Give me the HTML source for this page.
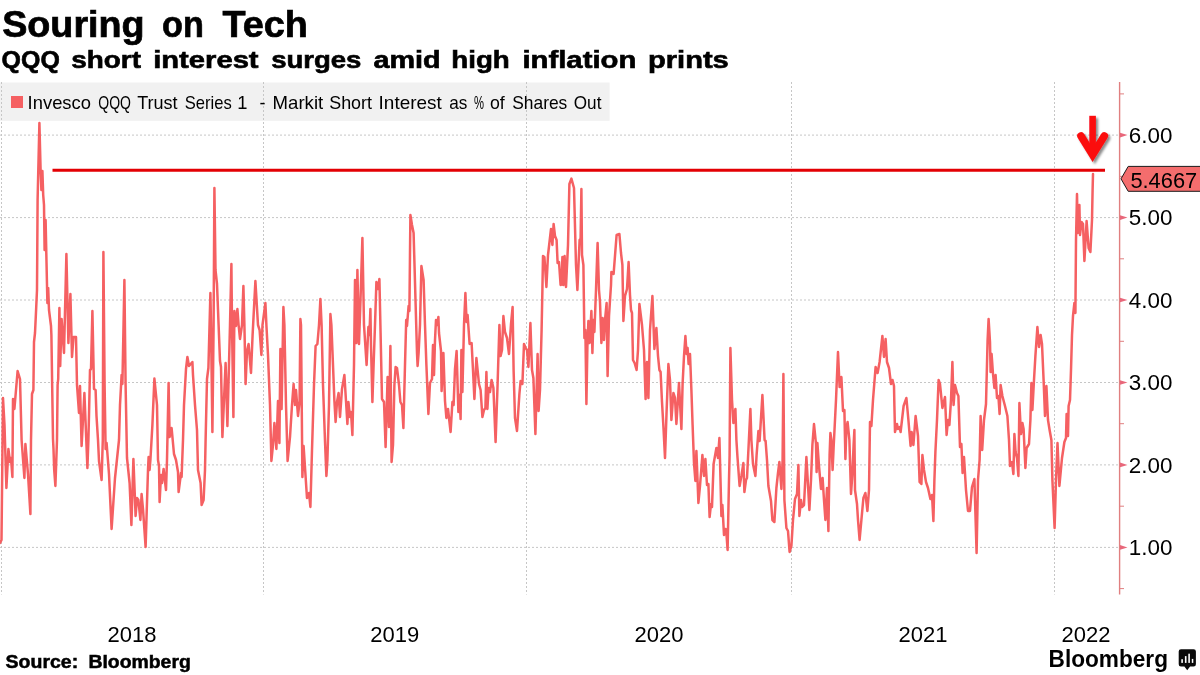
<!DOCTYPE html>
<html><head><meta charset="utf-8"><title>Souring on Tech</title>
<style>
html,body{margin:0;padding:0;background:#fff;}
body{width:1200px;height:675px;overflow:hidden;font-family:"Liberation Sans",sans-serif;}
svg{display:block;will-change:transform;}
svg text{font-family:"Liberation Sans",sans-serif;fill:#000;}
.b{font-weight:bold;}
</style></head>
<body>
<svg width="1200" height="675" viewBox="0 0 1200 675">
<defs>
<filter id="sh" x="-30%" y="-20%" width="170%" height="150%">
<feDropShadow dx="2.2" dy="2.2" stdDeviation="1.3" flood-color="#000" flood-opacity="0.45"/>
</filter>
</defs>
<rect width="1200" height="675" fill="#fff"/>
<g class="b" font-size="36" stroke="#000" stroke-width="0.7"><text x="2.2" y="36.6" textLength="142.4" lengthAdjust="spacingAndGlyphs">Souring</text><text x="162.0" y="36.6" textLength="41.8" lengthAdjust="spacingAndGlyphs">on</text><text x="222.4" y="36.6" textLength="85.4" lengthAdjust="spacingAndGlyphs">Tech</text></g>
<g class="b" font-size="23.6" stroke="#000" stroke-width="0.6"><text x="1.6" y="68" textLength="58.2" lengthAdjust="spacingAndGlyphs">QQQ</text><text x="71.3" y="68" textLength="69.7" lengthAdjust="spacingAndGlyphs">short</text><text x="153.2" y="68" textLength="105.4" lengthAdjust="spacingAndGlyphs">interest</text><text x="271.2" y="68" textLength="90.2" lengthAdjust="spacingAndGlyphs">surges</text><text x="373.4" y="68" textLength="67.2" lengthAdjust="spacingAndGlyphs">amid</text><text x="451.3" y="68" textLength="58.5" lengthAdjust="spacingAndGlyphs">high</text><text x="522.4" y="68" textLength="114.0" lengthAdjust="spacingAndGlyphs">inflation</text><text x="648.0" y="68" textLength="80.8" lengthAdjust="spacingAndGlyphs">prints</text></g>
<rect x="0" y="82.5" width="609.6" height="38.3" fill="#f1f1f1"/>
<g stroke="#c6c6c6" stroke-width="1" stroke-dasharray="2 2" fill="none"><line x1="1.5" y1="82" x2="1.5" y2="594.5"/><line x1="263.5" y1="82" x2="263.5" y2="594.5"/><line x1="526.5" y1="82" x2="526.5" y2="594.5"/><line x1="791.5" y1="82" x2="791.5" y2="594.5"/><line x1="1054.5" y1="82" x2="1054.5" y2="594.5"/><line x1="0" y1="547.4" x2="1119" y2="547.4"/><line x1="0" y1="464.9" x2="1119" y2="464.9"/><line x1="0" y1="382.5" x2="1119" y2="382.5"/><line x1="0" y1="300.0" x2="1119" y2="300.0"/><line x1="0" y1="217.6" x2="1119" y2="217.6"/><line x1="0" y1="135.1" x2="1119" y2="135.1"/></g>
<rect x="11" y="96" width="12" height="12" fill="#f56062"/>
<g font-size="17.8"><text x="27.6" y="109" textLength="63.4" lengthAdjust="spacingAndGlyphs">Invesco</text><text x="98.3" y="109" textLength="32.7" lengthAdjust="spacingAndGlyphs">QQQ</text><text x="137.2" y="109" textLength="40.4" lengthAdjust="spacingAndGlyphs">Trust</text><text x="184.8" y="109" textLength="47.0" lengthAdjust="spacingAndGlyphs">Series</text><text x="237.2" y="109" textLength="10.2" lengthAdjust="spacingAndGlyphs">1</text><text x="259.6" y="109" textLength="6.0" lengthAdjust="spacingAndGlyphs">-</text><text x="272.6" y="109" textLength="50.6" lengthAdjust="spacingAndGlyphs">Markit</text><text x="329.2" y="109" textLength="42.8" lengthAdjust="spacingAndGlyphs">Short</text><text x="378.6" y="109" textLength="63.2" lengthAdjust="spacingAndGlyphs">Interest</text><text x="449.2" y="109" textLength="18.1" lengthAdjust="spacingAndGlyphs">as</text><text x="474.0" y="109" textLength="10.0" lengthAdjust="spacingAndGlyphs">%</text><text x="490.0" y="109" textLength="14.8" lengthAdjust="spacingAndGlyphs">of</text><text x="512.2" y="109" textLength="55.1" lengthAdjust="spacingAndGlyphs">Shares</text><text x="573.8" y="109" textLength="27.6" lengthAdjust="spacingAndGlyphs">Out</text></g>
<line x1="1119.6" y1="82" x2="1119.6" y2="594.5" stroke="#e07f80" stroke-width="1.4"/>
<path d="M1120 545.1 L1127.5 547.4 L1120 549.7 Z" fill="#e8677a"/><path d="M1120 462.6 L1127.5 464.9 L1120 467.2 Z" fill="#e8677a"/><path d="M1120 380.2 L1127.5 382.5 L1120 384.8 Z" fill="#e8677a"/><path d="M1120 297.7 L1127.5 300.0 L1120 302.3 Z" fill="#e8677a"/><path d="M1120 215.3 L1127.5 217.6 L1120 219.9 Z" fill="#e8677a"/><path d="M1120 132.8 L1127.5 135.1 L1120 137.4 Z" fill="#e8677a"/><line x1="1120" y1="588.6" x2="1124" y2="588.6" stroke="#e07f80" stroke-width="1"/><line x1="1120" y1="506.2" x2="1124" y2="506.2" stroke="#e07f80" stroke-width="1"/><line x1="1120" y1="423.7" x2="1124" y2="423.7" stroke="#e07f80" stroke-width="1"/><line x1="1120" y1="341.3" x2="1124" y2="341.3" stroke="#e07f80" stroke-width="1"/><line x1="1120" y1="258.8" x2="1124" y2="258.8" stroke="#e07f80" stroke-width="1"/><line x1="1120" y1="176.4" x2="1124" y2="176.4" stroke="#e07f80" stroke-width="1"/><line x1="1120" y1="93.9" x2="1124" y2="93.9" stroke="#e07f80" stroke-width="1"/>
<polyline points="0,543 1.5,540 3,398 4.5,425 6.4,488 8.4,449 10,462 11,458 12.4,477 13,399 14.4,409 17.6,371 20,379 21.6,440 24.4,478 25.4,444 28,474 30.4,514 31,440 32,394 33.4,390 34,342 35,333 36,312 37,290 37.6,200 39.4,123 40.6,170 41.4,190 42.4,171 43.2,195 44,205 44.6,250 45.6,220 46.5,262 47.4,303 48.2,288 49,310 51,326 51.4,335 53,439 53.5,449 54.2,470 55.4,486 57,440 57.6,385 58.2,379 59.4,308 60.2,366 61.6,319 64,353 66.4,254 68.4,343 70.4,294 72,357 73.5,337 76,337 77,385 79,413 80,386 81.6,446 84.4,393 87.4,468 88.4,440 89,415 90,370 91,369 92.4,311 94,389 95.6,390 96.5,416 98,440 99,461 101.6,480 102.8,440 103.4,252 104.6,385 105.6,449 106.6,443 109,474 111.6,529 115,478 119,440 120,405 121.6,375 122.4,384 124.4,280 125.6,385 127,458 129.6,483 131.4,525 133.4,459 135.6,516 137,498 138.4,500 140.4,520 141.6,494 143,509 145.6,547 148,470 148.6,457 149.6,470 150.4,460 152.4,425 154.4,378.6 157,405 158,460 159,466 159.6,502 161,475 162,483 163.6,469 166,490 167,460 168.6,383 169.6,437 171.6,428 174,454 176,460 178,472 178.6,492 181,473 181.6,477 183,440 184,405 186,369 187.4,357 189,366 192.4,362 193,375 195,405 197,430 198,470 200.6,483 201.6,505 203.6,500 205,470 205.6,440 207,379 208.4,368 210.4,293 211,325 212.4,432 213.6,325 214.4,188 215.5,270 217,284 218.6,325 220,361 221,367 222.4,437 225.6,363 227.4,426 230,325 231.4,264 232,325 233.4,417 234.4,311 236,326 237.4,309 238.6,325 240,339 242,325 243.4,286 244.4,325 245.6,384 247,351 248.6,344 251,373 252.6,335 255.4,281 258,325 259.6,330 261.4,355 262.5,325 265.4,303 266.4,325 268,355 270,405 271.4,461 273,445 274.4,423 276.4,449 278,401 279.4,443 280.4,349 281.6,409 283.4,307 284.4,325 286,405 287.6,461 290,437 292,405 293.6,384 295,405 296,390 298,416 299.6,401 300.4,319 301,325 302.4,477 303.6,446 307,498 309,493 310.4,507 312,450 314,385 315.6,346 317.4,344 319,325 320.4,299 321.6,325 323,385 325,441 326.4,476 327.4,460 329,405 330.4,314 331.4,325 333,365 334.4,401 335.6,422 337,402 338.6,393 340,417 342,389 344.4,375 346,401 347.4,424 348.4,402 350,417 351,412 352.4,435 354,365 355,280 356.4,343 357.4,270 359,344 360.5,300 362.4,238 364,325 366.6,365 368.4,327 369.4,335 370.4,309 371,345 372.4,402 373.6,365 375,325 376.4,282 378,289 379.4,279 380.4,325 382,399 384,402 385.6,447 387.6,377 389,427 390.4,346 391.6,462 393,445 394.4,385 395.6,367 397,368 399,385 400.4,402 402,405 403.4,428 405,365 406.2,320 407,326 408.6,306 409.4,311 410.4,215 412,225 413.6,233 415.5,300 417,353 417.6,366 418.6,353 420,325 421.4,266 423.6,280 425,325 426.4,365 428.4,414 430,383 432,379 433,345 434,375 435,340 436,320 437.2,325 438.4,317 439,333 441,351 441.6,391 443.4,353 445,401 446.4,418 448,409 450.6,432 452.4,402 453.6,405 455,369 456.6,351 458.4,412 459.4,395 460.6,419 461.4,350 462.4,392 464,325 465.4,293 466.6,322 467.6,315 469.6,344 471.6,343 473,370 474.4,399 476.4,358 479,384 480.6,390 482.4,417 484,410 485.4,408 486.4,372 487.4,409 488.6,388 490,392 491.6,380 493.4,388 495.6,442 497.4,390 499.4,325 500.6,356 502,350 503.4,316 505,332 507,338 509,354 511,324 512.6,307 513.6,370 515,418 517,431 519.4,394 520.6,381 522.4,384 524,344 525.6,348 527,350 528.4,367 530.4,323 532,370 533.4,378 535.4,434 537.6,354 538.6,411 540,390 541.6,330 542.4,290 543,256 544.4,257 546.4,287 548,255 551,229 552.4,245 553.6,224 555,236 556.6,240 557.6,263 559,262 560.6,285 561.6,284 562.4,257 563.4,285 564.6,256 566,287 568,245 569.4,184 571.4,178.6 574,188 576,265 577.4,290 579.6,240 580.6,239 581.4,189 582,255 583.4,265 584.4,338 585.4,330 586.4,404 587.4,346 588.4,321 589.6,343 591.4,311 592.4,353 593.4,320 594.4,332 596,290 597.6,243 599,290 600,302 601.4,343 602.6,318 604,340 605.2,318 606.6,303 607.6,376 609,316 611,285 611.4,272 613.6,274 616.6,235 619.4,234 621,253 622.4,265 623.4,321 625,296 627,289 628.6,262 630,295 631,310 632,313 633,360 634.6,363 636.6,370 638,350 639.4,304 642,325 644,350 645.6,399 647,362 648.4,398 650,330 652.4,296 654.4,349 656.4,328 658,356 659.4,370 660.6,372 662,402 663.6,430 665,458 666.5,414 668.4,364 670,380 671.4,420 673.4,393 675,398 676.4,424 679,383 681.4,429 682.6,384 684,356 685.4,336 686.6,354 687.6,348 688.6,364 690,354 691.4,390 692.6,425 694,463 695.4,481 696.4,451 698.4,503 700,486 702.4,455 704,476 705.4,459 707,485 708.4,484 709.6,517 711,504 712,507 713.6,464 716.4,448 718,458 719.4,438 720,460 721.4,516 722.4,505 724,535 725.6,529 726.6,536 727.6,550 729,480 729.6,455 730.4,348 732,400 733.4,423 735.4,409 736.4,440 737.4,456 739.6,486 741.4,476 743.4,463 744.4,492 746,480 747,478 748.4,450 750.4,409 751.4,440 753,464 755.4,476 756.6,455 758.4,431 759.6,441 762.4,395 764.6,440 765.6,441 767,460 768.4,486 771,501 772.4,520 774.4,522 776.4,488 778,473 779.4,462 781.4,489 782.6,460 783.4,374 784.4,500 786.4,528 788,531 789.6,552 791.4,546 793,520 795,499 797,494 798.4,465 799.4,516 801,500 802,507 804,505 806.4,457 809.4,510 811,480 812.4,445 814,424 816,444 816.6,472 817.4,443 819,466 821,489 822.6,478 824,500 825.4,520 827,488 828.4,531 829.6,455 830.4,433 831.4,440 832.6,470 833.6,448 836,400 838,352 839.6,387 841.4,377 843,411 844.4,410 845.4,459 846.4,428 847.6,422 849.4,440 851,494 852.4,474 853.6,445 854.4,430 855,490 857,504 858,520 859.6,540 861.4,520 863.4,498 865.4,493 867.4,511 869,490 870,422 871.4,426 873,400 875.6,367 877.6,373 879.6,362 882.4,336 884,357 885.6,339 887,362 889,368 891,384 892.5,380 894,386 894.4,406 895,432 897,424 898,429 899.6,427 900.6,432 902,420 903.6,406 906.4,398 908.4,420 910.6,446 911.6,432 913.4,445 915.6,416 918,436 919.6,482 921.4,484 922.4,455 924,470 926,482 928,488 930.4,499 932,495 933.4,521 934.4,480 935.4,452 937,420 938.6,380 940,384 942.4,408 945,397 946.6,435 948,420 949.4,425 951,400 952.4,362 953.6,405 955,385 957,393 958.4,396 960,447 961.4,444 962.6,473 964,457 966,490 968,511 970,511 972,487 974.4,479 976.6,553 978,480 979.6,460 980.6,416 982.2,450 984,420 986,404 987.6,340 988.6,319 990,342 990.6,372 991.6,354 993,374 994.4,388 995.6,375 997,398 998.4,396 999.6,414 1000.6,385 1002.4,396 1005,406 1007.4,416 1009,440 1010,466 1012,462 1013.4,474 1014.4,434 1015.6,452 1017,458 1018.4,476 1019.4,403 1021,434 1022.4,423 1023.6,429 1025.4,468 1026.6,448 1029,444 1030.4,420 1031.4,383 1032.4,410 1034,380 1035.4,356 1037.4,327 1039,347 1040.6,335 1042,344 1043.6,380 1045,416 1046.4,386 1048,420 1049.6,430 1051.4,440 1052.4,480 1054.6,528 1056,480 1057.5,443 1059.4,486 1062,458 1064.4,442 1066,438 1066.6,414 1068,436 1068.6,406 1070,400 1071,370 1072,335 1073,316 1074.4,303 1075.4,313 1076,240 1077,194 1077.8,233 1079.4,205 1080,235 1081.6,222 1083,224 1084.4,261 1086.6,221 1088.6,248 1090.4,252 1092,220 1092.6,190 1093,174" fill="none" stroke="#f56062" stroke-width="2.5" stroke-linejoin="round" stroke-linecap="round"/>
<line x1="52.5" y1="170.2" x2="1105" y2="170.2" stroke="#e30004" stroke-width="3"/>
<g filter="url(#sh)">
<path d="M1092.6 115.8 V154" stroke="#fb0a0d" stroke-width="6.6" fill="none"/>
<path d="M1081 136 L1092.6 154.8 L1104.3 136" stroke="#fb0a0d" stroke-width="7.6" fill="none" stroke-linecap="round" stroke-linejoin="miter"/>
</g>
<path d="M1121 178.8 L1128.2 166.4 H1200.5 V191.3 H1128.2 Z" fill="#f46d6d" stroke="#1a1a1a" stroke-width="1"/>
<g font-size="22.6"><text x="1128.8" y="555.2" textLength="43.6" lengthAdjust="spacingAndGlyphs">1.00</text><text x="1128.8" y="472.8" textLength="43.6" lengthAdjust="spacingAndGlyphs">2.00</text><text x="1128.8" y="390.3" textLength="43.6" lengthAdjust="spacingAndGlyphs">3.00</text><text x="1128.8" y="307.8" textLength="43.6" lengthAdjust="spacingAndGlyphs">4.00</text><text x="1128.8" y="142.9" textLength="43.6" lengthAdjust="spacingAndGlyphs">6.00</text><text x="1128.8" y="225.4" textLength="43.6" lengthAdjust="spacingAndGlyphs">5.00</text><text x="1130.4" y="188.3" textLength="66.8" lengthAdjust="spacingAndGlyphs">5.4667</text></g>
<g font-size="22"><text x="132" y="641.8" text-anchor="middle">2018</text><text x="394.7" y="641.8" text-anchor="middle">2019</text><text x="659" y="641.8" text-anchor="middle">2020</text><text x="923" y="641.8" text-anchor="middle">2021</text><text x="1086" y="641.8" text-anchor="middle">2022</text></g>
<g class="b" font-size="18.2" stroke="#000" stroke-width="0.5"><text x="5.6" y="668" textLength="72.6" lengthAdjust="spacingAndGlyphs">Source:</text><text x="88.4" y="668" textLength="102.4" lengthAdjust="spacingAndGlyphs">Bloomberg</text></g>
<text class="b" x="1048.6" y="667.2" font-size="23.5" textLength="119.4" lengthAdjust="spacingAndGlyphs">Bloomberg</text>
<g>
<path d="M1181 649.2 H1193.6 Q1195.9 649.2 1195.9 651.5 V664.2 Q1195.9 666.5 1193.6 666.5 H1190.1 L1187.2 670.2 L1184.4 666.5 H1181 Q1178.7 666.5 1178.7 664.2 V651.5 Q1178.7 649.2 1181 649.2 Z" fill="#0a0a0a"/>
<rect x="1181.3" y="659.2" width="1.6" height="3.7" fill="#fff"/>
<rect x="1184.9" y="656.1" width="1.6" height="6.8" fill="#fff"/>
<rect x="1188.3" y="653.7" width="1.6" height="9.2" fill="#fff"/>
<rect x="1191.8" y="658.9" width="1.5" height="4" fill="#fff"/>
</g>
</svg>
</body></html>
